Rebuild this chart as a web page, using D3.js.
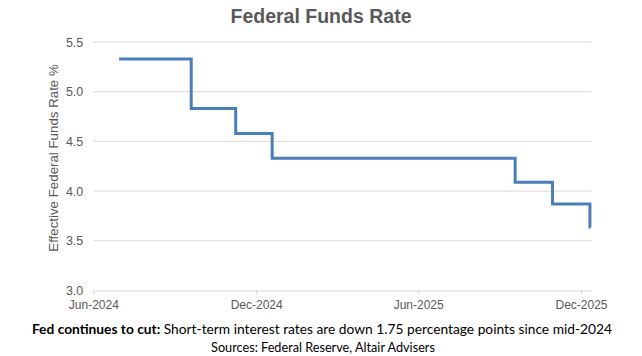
<!DOCTYPE html>
<html>
<head>
<meta charset="utf-8">
<script src="https://cdn.jsdelivr.net/npm/d3@7"></script>
<style>
  html, body { margin: 0; padding: 0; background: #fff; }
  svg { display: block; }
</style>
</head>
<body>
<svg id="chart" width="642" height="356"></svg>
<script>
// ---- data ----
const changeDates = ["2024-06-30", "2024-09-19", "2024-11-08", "2024-12-19", "2025-09-18", "2025-10-30", "2025-12-11", "2025-12-12"];
const rates       = [5.33, 4.83, 4.58, 4.33, 4.09, 3.87, 3.64, 3.64];
const yTicks      = [3.0, 3.5, 4.0, 4.5, 5.0, 5.5];
const xTickDates  = ["2024-06-01", "2024-12-01", "2025-06-01", "2025-12-01"];
const xDomain     = ["2024-06-01", "2025-12-13"];
const titleText   = "Federal Funds Rate";
const yTitle      = "Effective Federal Funds Rate %";
const noteBold    = "Fed continues to cut:";
const noteRest    = " Short-term interest rates are down 1.75 percentage points since mid-2024";
const sourceText  = "Sources: Federal Reserve, Altair Advisers";

(function () {
const parse = d3.utcParse("%Y-%m-%d");
const data = changeDates.map((d, i) => ({ date: parse(d), rate: rates[i] }));

const svg = d3.select("#chart");
const mLeft = 93.3, mRight = 591.7, mTop = 42, mBottom = 290.5;

const x = d3.scaleUtc().domain(xDomain.map(parse)).range([mLeft, mRight]);
const y = d3.scaleLinear().domain([3, 5.5]).range([mBottom, mTop]);

const axisFont = "'Liberation Sans', Arial, sans-serif";
const gray = "#595959";

// gridlines
svg.append("g")
  .selectAll("line")
  .data(yTicks.filter(v => v > 3))
  .join("line")
  .attr("x1", mLeft).attr("x2", mRight)
  .attr("y1", d => y(d)).attr("y2", d => y(d))
  .attr("stroke", "#d9d9d9").attr("stroke-width", 1);

// y axis labels
const yAxis = d3.axisLeft(y).tickValues(yTicks).tickFormat(d3.format(".1f")).tickSize(0).tickPadding(10);
const gy = svg.append("g").attr("transform", `translate(${mLeft},0)`).call(yAxis);
gy.select(".domain").remove();
gy.selectAll("text").attr("font-family", axisFont).attr("font-size", 12.5).attr("fill", gray);

// x axis
const xAxis = d3.axisBottom(x).tickValues(xTickDates.map(parse)).tickFormat(d3.utcFormat("%b-%Y")).tickSize(4).tickSizeOuter(0).tickPadding(6);
const gx = svg.append("g").attr("transform", `translate(0,${mBottom})`).call(xAxis);
gx.select(".domain").attr("stroke", "#d9d9d9");
gx.selectAll(".tick line").attr("stroke", "#d9d9d9");
gx.selectAll("text").attr("font-family", axisFont).attr("font-size", 12).attr("fill", gray);

// line
const line = d3.line().x(d => x(d.date)).y(d => y(d.rate)).curve(d3.curveStepAfter);
svg.append("path")
  .datum(data)
  .attr("d", line)
  .attr("fill", "none")
  .attr("stroke", "#4a7ebb")
  .attr("stroke-width", 3)
  .attr("stroke-linejoin", "miter");

// title
svg.append("text")
  .attr("x", 321).attr("y", 23)
  .attr("text-anchor", "middle")
  .attr("font-family", axisFont).attr("font-weight", "bold")
  .attr("font-size", 19.5).attr("fill", gray)
  .text(titleText);

// y title
svg.append("text")
  .attr("transform", `translate(58,158) rotate(-90)`)
  .attr("text-anchor", "middle")
  .attr("font-family", axisFont)
  .attr("font-size", 13.3).attr("fill", gray)
  .text(yTitle);

// note
const noteFont = "Lato, 'Open Sans', sans-serif";
const note = svg.append("text")
  .attr("x", 322).attr("y", 334)
  .attr("text-anchor", "middle")
  .attr("font-family", noteFont).attr("font-size", 14).attr("fill", "#000");
note.append("tspan").attr("font-weight", "bold").text(noteBold);
note.append("tspan").text(noteRest);
const nw = note.node().getComputedTextLength();
note.attr("font-size", 14 * 581 / nw);

const src = svg.append("text")
  .attr("x", 323).attr("y", 352)
  .attr("text-anchor", "middle")
  .attr("font-family", noteFont).attr("font-size", 12).attr("fill", "#000")
  .text(sourceText);
const sw = src.node().getComputedTextLength();
src.attr("font-size", 12 * 224 / sw);
})();
</script>
</body>
</html>
